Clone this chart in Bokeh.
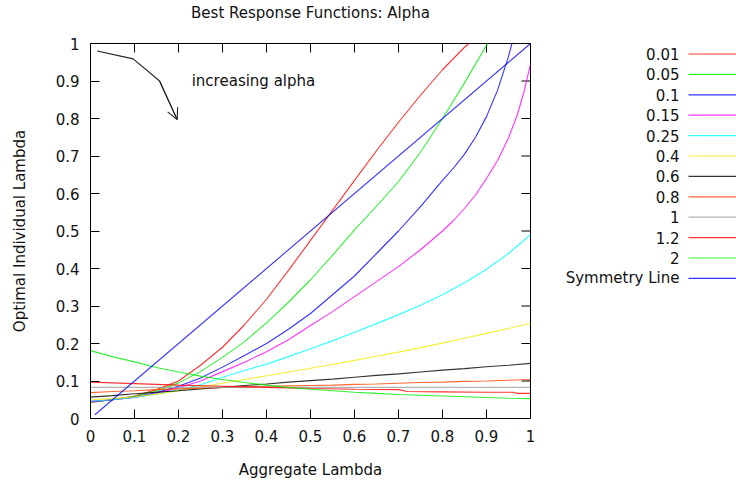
from bokeh.plotting import figure
from bokeh.layouts import row, column
from bokeh.models import (Range1d, FixedTicker, NumeralTickFormatter,
                          Label, Arrow, OpenHead, ColumnDataSource)
from bokeh.core.properties import value
from bokeh.embed import file_html
from bokeh.resources import INLINE

FONT = "DejaVu Sans"
TITLE = "Best Response Functions: Alpha"

# ---- data -------------------------------------------------------------
x_ticks = [0, 0.1, 0.2, 0.3, 0.4, 0.5, 0.6, 0.7, 0.8, 0.9, 1.0]
y_ticks = [0, 0.1, 0.2, 0.3, 0.4, 0.5, 0.6, 0.7, 0.8, 0.9, 1.0]

grid21 = [0, 0.05, 0.1, 0.15, 0.2, 0.25, 0.3, 0.35, 0.4, 0.45, 0.5,
          0.55, 0.6, 0.65, 0.7, 0.75, 0.8, 0.85, 0.9, 0.95, 1.0]

alpha_001_x = grid21[:19]
alpha_001_y = [0.043, 0.05, 0.06, 0.077, 0.10, 0.142, 0.19, 0.25, 0.318, 0.395,
               0.475, 0.555, 0.635, 0.714, 0.79, 0.862, 0.93, 0.99, 1.04]

alpha_005_x = grid21[:20]
alpha_005_y = [0.044, 0.05, 0.059, 0.073, 0.095, 0.125, 0.163, 0.205, 0.255, 0.31,
               0.37, 0.435, 0.503, 0.566, 0.632, 0.71, 0.80, 0.895, 0.995, 1.1]

alpha_01_x = [0, 0.05, 0.1, 0.15, 0.2, 0.25, 0.3, 0.35, 0.4, 0.45, 0.5, 0.55,
              0.6, 0.65, 0.7, 0.75, 0.8, 0.825, 0.85, 0.875, 0.9, 0.925, 0.95,
              0.96]
alpha_01_y = [0.045, 0.05, 0.057, 0.069, 0.086, 0.108, 0.137, 0.168, 0.2, 0.238,
              0.28, 0.33, 0.38, 0.44, 0.5, 0.565, 0.635, 0.668, 0.705, 0.75,
              0.805, 0.875, 0.965, 1.01]

alpha_015_x = [0, 0.05, 0.1, 0.15, 0.2, 0.25, 0.3, 0.35, 0.4, 0.45, 0.5, 0.55,
               0.6, 0.65, 0.7, 0.75, 0.8, 0.825, 0.85, 0.875, 0.9, 0.925, 0.95,
               0.97, 0.985, 1.0]
alpha_015_y = [0.046, 0.05, 0.056, 0.067, 0.082, 0.1, 0.125, 0.15, 0.178, 0.21,
               0.248, 0.285, 0.325, 0.365, 0.405, 0.45, 0.5, 0.528, 0.56, 0.596,
               0.64, 0.688, 0.748, 0.81, 0.87, 0.945]

alpha_025_x = grid21
alpha_025_y = [0.046, 0.05, 0.056, 0.065, 0.076, 0.09, 0.11, 0.128, 0.145, 0.165,
               0.186, 0.207, 0.23, 0.253, 0.277, 0.302, 0.33, 0.362, 0.398, 0.44,
               0.49]

alpha_04_x = grid21
alpha_04_y = [0.05, 0.053, 0.058, 0.065, 0.074, 0.084, 0.094, 0.104, 0.114, 0.124,
              0.134, 0.144, 0.155, 0.166, 0.177, 0.189, 0.201, 0.214, 0.227, 0.24,
              0.254]

alpha_06_x = grid21
alpha_06_y = [0.057, 0.061, 0.066, 0.070, 0.074, 0.079, 0.083, 0.088, 0.092, 0.097,
              0.101, 0.105, 0.110, 0.115, 0.119, 0.124, 0.129, 0.133, 0.138, 0.142,
              0.147]

alpha_08_x = grid21
alpha_08_y = [0.069, 0.072, 0.074, 0.077, 0.079, 0.081, 0.083, 0.085, 0.086, 0.087,
              0.088, 0.089, 0.091, 0.092, 0.094, 0.096, 0.097, 0.099, 0.100, 0.102,
              0.104]

alpha_1_x = [0, 1.0]
alpha_1_y = [0.083, 0.083]

alpha_12_x = [0, 0.1, 0.2, 0.3, 0.4, 0.5, 0.6, 0.7, 0.72, 0.8, 0.9, 0.96, 0.97, 1.0]
alpha_12_y = [0.097, 0.093, 0.089, 0.086, 0.083, 0.080, 0.078, 0.077, 0.072, 0.071,
              0.070, 0.070, 0.067, 0.067]

alpha_2_x = grid21
alpha_2_y = [0.181, 0.165, 0.151, 0.136, 0.124, 0.113, 0.104, 0.096, 0.089, 0.083,
             0.078, 0.074, 0.07, 0.067, 0.064, 0.062, 0.06, 0.058, 0.056, 0.054,
             0.053]

symmetry_x = [0.01, 1.0]
symmetry_y = [0.01, 1.0]

legend_labels = ["0.01", "0.05", "0.1", "0.15", "0.25", "0.4", "0.6", "0.8",
                 "1", "1.2", "2", "Symmetry Line"]
line_colors = ["#ff0000", "#00ee00", "#0000ff", "#ff00ff", "#00ffff", "#eeee00",
               "#000000", "#ff4500", "#a0a0a0", "#ff0000", "#00ee00", "#0000ff"]

series = [
    (alpha_001_x, alpha_001_y), (alpha_005_x, alpha_005_y),
    (alpha_01_x, alpha_01_y), (alpha_015_x, alpha_015_y),
    (alpha_025_x, alpha_025_y), (alpha_04_x, alpha_04_y),
    (alpha_06_x, alpha_06_y), (alpha_08_x, alpha_08_y),
    (alpha_1_x, alpha_1_y), (alpha_12_x, alpha_12_y),
    (alpha_2_x, alpha_2_y), (symmetry_x, symmetry_y),
]

arrow_x = [0.015, 0.097, 0.157, 0.197]
arrow_y = [0.98, 0.959, 0.9, 0.797]

# page geometry (pixels)
PAGE_W, PAGE_H = 736, 485
MAIN_W = 550
TITLE_H = 24
FRAME_LEFT, FRAME_RIGHT = 90, 530
FRAME_TOP, FRAME_BOTTOM = 43, 418
TICK_LEN = 9
BODY_H = PAGE_H - TITLE_H


def bare(fig):
    fig.grid.visible = False
    fig.outline_line_color = None
    fig.background_fill_color = "white"
    fig.border_fill_color = "white"
    return fig


# ---- title strip ---------------------------------------------------------
head = bare(figure(width=MAIN_W, height=TITLE_H, x_range=Range1d(0, 1),
                   y_range=Range1d(0, 1), output_backend="svg",
                   toolbar_location=None, x_axis_type=None, y_axis_type=None,
                   min_border_left=FRAME_LEFT, min_border_right=MAIN_W - FRAME_RIGHT,
                   min_border_top=0, min_border_bottom=0))
head.text(x=[0.5], y=[0.5], text=[TITLE], text_align="center",
          text_baseline="middle", text_font=value(FONT), text_font_size="15px",
          text_color="#111111")

# ---- main plot ----------------------------------------------------------
p = figure(width=MAIN_W, height=BODY_H, x_range=Range1d(0, 1), y_range=Range1d(0, 1),
           output_backend="svg", toolbar_location=None,
           min_border_left=FRAME_LEFT, min_border_right=MAIN_W - FRAME_RIGHT,
           min_border_top=FRAME_TOP - TITLE_H, min_border_bottom=PAGE_H - FRAME_BOTTOM,
           x_axis_label="Aggregate Lambda", y_axis_label="Optimal Individual Lambda")
p.background_fill_color = "white"
p.border_fill_color = "white"
p.grid.visible = False
p.outline_line_color = "#000000"

for ax, ticks in ((p.xaxis[0], x_ticks), (p.yaxis[0], y_ticks)):
    ax.ticker = FixedTicker(ticks=ticks)
    ax.formatter = NumeralTickFormatter(format="0.[0]")
    ax.major_tick_in = TICK_LEN
    ax.major_tick_out = 0
    ax.minor_tick_line_color = None
    ax.axis_line_color = "#000000"
    ax.major_tick_line_color = "#000000"
    ax.major_label_text_font = FONT
    ax.major_label_text_font_size = "15px"
    ax.major_label_text_color = "#111111"
    ax.axis_label_text_font = FONT
    ax.axis_label_text_font_size = "15px"
    ax.axis_label_text_font_style = "normal"
    ax.axis_label_text_color = "#111111"

p.xaxis.major_label_standoff = 11
p.xaxis.axis_label_standoff = 16
p.yaxis.major_label_standoff = 11
p.yaxis.axis_label_standoff = 24

# mirrored inward ticks on the top and right borders
dy = TICK_LEN / (FRAME_BOTTOM - FRAME_TOP)
dx = TICK_LEN / (FRAME_RIGHT - FRAME_LEFT)
p.segment(x0=x_ticks, y0=[1] * len(x_ticks), x1=x_ticks,
          y1=[1 - dy] * len(x_ticks), line_color="#000000", line_width=1)
p.segment(x0=[1] * len(y_ticks), y0=y_ticks, x1=[1 - dx] * len(y_ticks),
          y1=y_ticks, line_color="#000000", line_width=1)

for (xs, ys), color in zip(series, line_colors):
    p.line(x=xs, y=ys, line_color=color, line_width=1.1, line_alpha=0.8)

# annotation arrow and text
p.line(x=arrow_x, y=arrow_y, line_color="#222222", line_width=1.1)
p.add_layout(Arrow(x_start=arrow_x[-2], y_start=arrow_y[-2],
                   x_end=arrow_x[-1], y_end=arrow_y[-1],
                   line_color="#222222", line_width=1.1,
                   end=OpenHead(size=11, line_color="#222222", line_width=1.1)))
p.add_layout(Label(x=0.23, y=0.9, text="increasing alpha", text_font=FONT,
                   text_font_size="15px", text_baseline="middle",
                   text_color="#111111"))

# ---- key panel (y in page pixels) ---------------------------------------
key = bare(figure(width=PAGE_W - MAIN_W, height=BODY_H,
                  x_range=Range1d(MAIN_W, PAGE_W),
                  y_range=Range1d(FRAME_BOTTOM, FRAME_TOP), output_backend="svg",
                  toolbar_location=None, x_axis_type=None, y_axis_type=None,
                  min_border_left=0, min_border_right=0,
                  min_border_top=FRAME_TOP - TITLE_H,
                  min_border_bottom=PAGE_H - FRAME_BOTTOM))

n = len(legend_labels)
row_y = [53.5 + 20.4 * i for i in range(n)]
key_src = ColumnDataSource(dict(
    label=legend_labels, color=line_colors, y=row_y,
    tx=[679] * n, x0=[688] * n, x1=[PAGE_W] * n))
key.text(x="tx", y="y", text="label", source=key_src, text_align="right",
         text_baseline="middle", text_font=value(FONT), text_font_size="15px",
         text_color="#111111")
key.segment(x0="x0", y0="y", x1="x1", y1="y", source=key_src,
            line_color="color", line_width=1.2, line_alpha=0.8)

layout = column(head, row(p, key))
open("out.html", "w").write(file_html(layout, INLINE))
